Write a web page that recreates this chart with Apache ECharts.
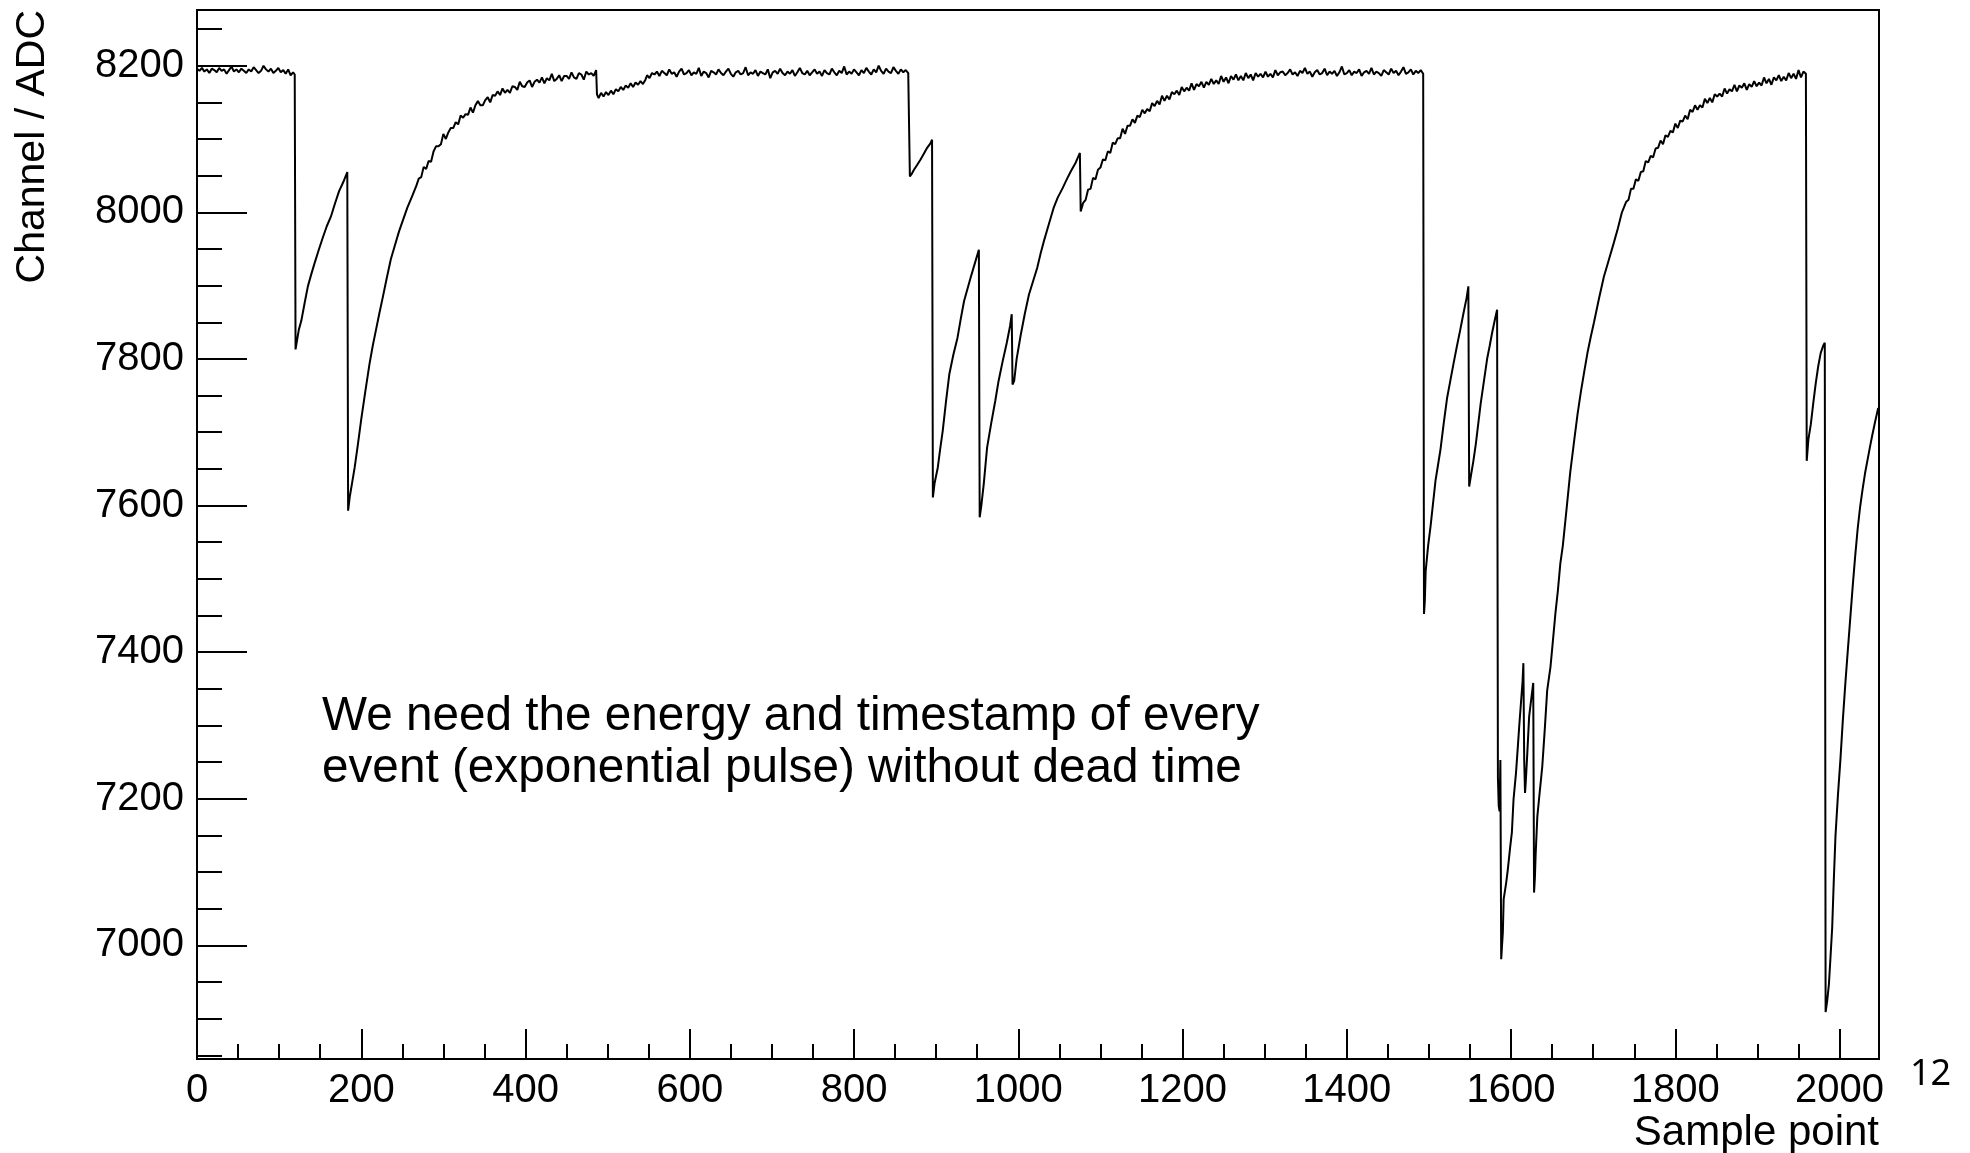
<!DOCTYPE html>
<html>
<head>
<meta charset="utf-8">
<script src="https://cdn.jsdelivr.net/npm/echarts@6/dist/echarts.min.js"></script>
<style>
html,body{margin:0;padding:0;background:#fff;}
#chart{width:1970px;height:1153px;}
</style>
</head>
<body>
<div id="chart"></div>
<script>
// ---- data ----
// Noisy stretches: values listed every 3 sample points from the given start.
const flatStartAt = 0;
const flatStart = [8196,8193,8197,8192,8195,8190,8196,8194,8191,8197,8193,8195,8189,8194,8199,8192,8195,8191,8196,8193,8190,8195,8192,8198,8194,8190,8193,8200,8195,8192,8196,8190,8193,8197,8191,8194,8189,8195,8187,8191];
// Explicit [sample point, channel] pairs
const pulseA = [[119,8188],[120,7813],[121,7820],[124,7840],[127,7852],[131,7876],[135,7899],[139,7915],[143,7930],[148,7948],[153,7965],[158,7981],[163,7994],[168,8012],[173,8029],[178,8041],[183,8055]];
const pulseB = [[184,7593],[186,7612],[189,7632],[192,7652],[196,7684],[200,7718],[205,7756],[210,7793],[214,7818],[218,7840],[222,7862],[226,7883],[231,7910],[236,7936],[241,7955],[246,7974],[251,7990],[256,8006],[262,8022],[267,8036]];
const tailBAt = 270;
const tailB = [8046,8048,8062,8059,8070,8069,8083,8090,8090,8093,8107,8100,8109,8115,8115,8123,8120,8132,8129,8134,8133,8143,8136,8146,8152,8146,8146,8153,8157,8150,8160,8159,8165,8160,8169,8163,8167,8163,8172,8171,8167,8178,8172,8171,8177,8180,8171,8178,8181,8177,8184,8176,8183,8180,8189,8179,8182,8187,8179,8186,8186,8182,8191,8184,8182,8190,8188,8181,8192,8188,8190,8186,8194];
const smallDip = [[487,8161],[489,8156],[492,8163],[495,8158],[498,8164],[501,8160],[504,8166],[507,8161],[510,8168],[513,8165],[516,8171],[519,8167],[522,8173],[525,8170],[528,8176],[531,8171],[534,8177],[537,8174],[540,8179],[543,8175],[546,8181],[548,8187],[551,8183],[554,8190]];
const flatMidAt = 557;
const flatMid = [8188,8192,8186,8193,8190,8187,8195,8189,8191,8185,8192,8196,8188,8190,8194,8187,8191,8189,8197,8186,
  8192,8190,8184,8193,8191,8188,8195,8190,8187,8192,8196,8189,8185,8191,8193,8188,8190,8198,8187,8191,
  8189,8194,8186,8192,8190,8188,8195,8183,8191,8193,8189,8196,8190,8187,8192,8189,8194,8186,8191,8197,
  8190,8188,8193,8187,8191,8195,8189,8192,8186,8194,8190,8188,8196,8191,8187,8193,8190,8199,8188,8192,
  8189,8195,8191,8187,8194,8190,8197,8192,8188,8195,8191,8200,8193,8189,8196,8192,8190,8198,8193,8189,
  8195,8191,8194,8190];
const pulseC = [[868,8049],[870,8052],[873,8058],[877,8065],[881,8072],[885,8080],[889,8088],[893,8094],[895,8099]];
const pulseD = [[896,7611],[898,7630],[902,7652],[905,7678],[908,7702],[912,7742],[916,7779],[921,7806],[926,7829],[930,7855],[934,7879],[938,7895],[942,7911],[947,7930],[952,7949]];
const pulseE = [[953,7584],[955,7600],[958,7630],[962,7679],[967,7712],[972,7743],[976,7770],[981,7797],[986,7822],[990,7845],[992,7861]];
const pulseF = [[993,7765],[995,7770],[998,7800],[1003,7833],[1008,7862],[1013,7888],[1018,7906],[1023,7924],[1027,7943],[1031,7960],[1037,7983],[1043,8006],[1048,8020],[1054,8033],[1059,8045],[1064,8056],[1070,8068],[1075,8081]];
const pulseG = [[1076,8001]];
const tailGAt = 1079;
const tailG = [8013,8017,8031,8032,8047,8045,8058,8061,8072,8071,8083,8081,8095,8093,8101,8101,8114,8107,8118,8118,8127,8122,8132,8130,8140,8135,8141,8138,8149,8145,8152,8147,8159,8152,8159,8154,8164,8161,8166,8160,8171,8165,8170,8166,8176,8167,8175,8172,8178,8170,8178,8174,8182,8175,8180,8175,8186,8178,8184,8176,8186,8181,8188,8180,8186,8180,8190,8183,8188,8180,8190,8185,8189,8184,8192,8185,8189,8184,8194,8187,8191];
const flatLateAt = 1322;
const flatLate = [8192,8187,8190,8195,8188,8191,8186,8193,8190,8197,8189,8192,8185,8191,8194,8188,8190,8196,8187,8192,
  8189,8193,8186,8191,8199,8188,8190,8194,8187,8192,8190,8195,8186,8191,8193,8189,8197,8188,8192,8190,
  8186,8194,8191,8188,8196,8190,8193,8187,8192,8198,8189,8191,8195,8188,8193,8190,8194,8189];
const pulseH = [[1494,7452],[1495,7470],[1496,7510],[1499,7545],[1502,7572],[1505,7603],[1508,7634],[1511,7655],[1514,7676],[1518,7712],[1522,7746],[1526,7770],[1530,7794],[1534,7817],[1538,7839],[1542,7862],[1546,7884],[1548,7899]];
const pulseI = [[1549,7626],[1551,7640],[1554,7660],[1557,7683],[1560,7711],[1563,7739],[1567,7770],[1571,7801],[1574,7818],[1577,7836],[1580,7852],[1583,7867]];
const pulseJ = [[1584,7228],[1585,7190],[1586,7183],[1587,7253],[1588,6981],[1589,7000],[1590,7018],[1591,7063],[1594,7085],[1596,7103],[1599,7135],[1601,7154],[1603,7199],[1606,7235],[1608,7267],[1610,7300],[1612,7330],[1614,7360],[1615,7385]];
const pulseK = [[1616,7253],[1617,7208],[1618,7225],[1620,7267],[1622,7312],[1625,7340],[1627,7358]];
const pulseL = [[1628,7072],[1629,7092],[1630,7126],[1632,7176],[1634,7199],[1638,7244],[1641,7294],[1644,7348],[1648,7380],[1651,7416],[1654,7453],[1657,7484],[1660,7521],[1663,7545],[1668,7600],[1672,7645],[1677,7690],[1681,7725],[1685,7755],[1689,7782],[1693,7808],[1697,7830],[1701,7850],[1707,7882],[1713,7912],[1719,7935],[1725,7958],[1730,7978],[1735,8000]];
const tailLAt = 1740;
const tailL = [8014,8017,8032,8032,8045,8043,8055,8056,8070,8068,8077,8075,8087,8088,8098,8093,8105,8103,8111,8109,8121,8115,8125,8124,8132,8127,8140,8137,8146,8140,8146,8143,8155,8149,8156,8150,8161,8158,8162,8158,8169,8162,8168,8165,8174,8165,8173,8170,8176,8167,8175,8171,8179,8172,8177,8173,8184,8176,8182,8174,8184,8180,8187,8179,8185,8180,8190,8183,8189,8182,8194,8184,8192,8189];
const pulseM = [[1960,7661],[1962,7690],[1965,7711],[1968,7740],[1971,7767],[1974,7790],[1977,7808],[1980,7818],[1982,7822]];
const pulseN = [[1983,6909],[1985,6925],[1987,6947],[1989,6985],[1991,7024],[1993,7090],[1995,7149],[1998,7205],[2001,7253],[2004,7308],[2007,7357],[2010,7402],[2013,7446],[2016,7490],[2019,7531],[2022,7568],[2025,7598],[2028,7622],[2031,7644],[2034,7662],[2037,7680],[2040,7697],[2043,7713],[2046,7728],[2047,7733]];

const xMajorTicks = [0,200,400,600,800,1000,1200,1400,1600,1800,2000];
const xMinorTicks = [50,100,150,250,300,350,450,500,550,650,700,750,850,900,950,1050,1100,1150,1250,1300,1350,1450,1500,1550,1650,1700,1750,1850,1900,1950,2050];
const yMajorTicks = [7000,7200,7400,7600,7800,8000,8200];
const yMinorTicks = [6850,6900,6950,7050,7100,7150,7250,7300,7350,7450,7500,7550,7650,7700,7750,7850,7900,7950,8050,8100,8150,8250];

const xTitle = 'Sample point';
const yTitle = 'Channel / ADC';
const noteLines = ['We need the energy and timestamp of every', 'event (exponential pulse) without dead time'];
const pageNumber = '12';

// pair up listed values with their sample points (every 3rd sample)
function every3(start, values) { return values.map(function (v, i) { return [start + 3 * i, v]; }); }

const waveform = [].concat(
  every3(flatStartAt, flatStart), pulseA, pulseB, every3(tailBAt, tailB), smallDip,
  every3(flatMidAt, flatMid), pulseC, pulseD, pulseE, pulseF, pulseG, every3(tailGAt, tailG),
  every3(flatLateAt, flatLate), pulseH, pulseI, pulseJ, pulseK, pulseL, every3(tailLAt, tailL),
  pulseM, pulseN);

const FONT = '"Liberation Sans", Arial, Helvetica, sans-serif';
const X_MIN = 0, X_MAX = 2048, Y_MIN = 6845, Y_MAX = 8276;

const chart = echarts.init(document.getElementById('chart'), null, {renderer: 'canvas'});
const tickStyle = {color: '#000', width: 2};
const plainNumber = function (v) { return String(v); };
chart.setOption({
  animation: false,
  backgroundColor: '#fff',
  grid: {left: 197, right: 91, top: 10, bottom: 94, show: true, borderColor: '#000', borderWidth: 2, backgroundColor: 'transparent', containLabel: false, outerBoundsMode: 'none'},
  xAxis: [
    {type: 'value', min: X_MIN, max: X_MAX, position: 'bottom',
     axisLine: {show: true, onZero: false, lineStyle: tickStyle},
     axisTick: {show: true, inside: true, length: 30, customValues: xMajorTicks, lineStyle: tickStyle},
     axisLabel: {show: true, customValues: xMajorTicks, formatter: plainNumber, margin: 12, fontSize: 40, fontFamily: FONT, color: '#000', hideOverlap: false},
     splitLine: {show: false}},
    {type: 'value', min: X_MIN, max: X_MAX, position: 'bottom', offset: 0,
     axisLine: {show: false, onZero: false},
     axisTick: {show: true, inside: true, length: 15, customValues: xMinorTicks, lineStyle: tickStyle},
     axisLabel: {show: false}, splitLine: {show: false}}
  ],
  yAxis: [
    {type: 'value', min: Y_MIN, max: Y_MAX, position: 'left',
     axisLine: {show: true, onZero: false, lineStyle: tickStyle},
     axisTick: {show: true, inside: true, length: 50, customValues: yMajorTicks, lineStyle: tickStyle},
     axisLabel: {show: true, customValues: yMajorTicks, formatter: plainNumber, margin: 13, fontSize: 40, fontFamily: FONT, color: '#000', hideOverlap: false},
     splitLine: {show: false}},
    {type: 'value', min: Y_MIN, max: Y_MAX, position: 'left', offset: 0,
     axisLine: {show: false, onZero: false},
     axisTick: {show: true, inside: true, length: 25, customValues: yMinorTicks, lineStyle: tickStyle},
     axisLabel: {show: false}, splitLine: {show: false}}
  ],
  series: [{
    type: 'line', xAxisIndex: 0, yAxisIndex: 0, data: waveform,
    showSymbol: false, symbol: 'none', sampling: null, clip: true,
    lineStyle: {color: '#000', width: 2}, z: 3
  }],
  graphic: [
    {type: 'text', x: 33, y: 10, rotation: Math.PI / 2,
     style: {text: yTitle, font: '41px ' + FONT, fill: '#000', align: 'right', textAlign: 'right', verticalAlign: 'middle', textVerticalAlign: 'middle'}},
    {type: 'text', x: 1879, y: 1133,
     style: {text: xTitle, font: '42px ' + FONT, fill: '#000', align: 'right', textAlign: 'right', verticalAlign: 'middle', textVerticalAlign: 'middle'}},
    {type: 'text', x: 322, y: 717,
     style: {text: noteLines[0], font: '47.7px ' + FONT, fill: '#000', align: 'left', textAlign: 'left', verticalAlign: 'middle', textVerticalAlign: 'middle'}},
    {type: 'text', x: 322, y: 769,
     style: {text: noteLines[1], font: '47.7px ' + FONT, fill: '#000', align: 'left', textAlign: 'left', verticalAlign: 'middle', textVerticalAlign: 'middle'}},
    {type: 'text', x: 1910, y: 1075,
     style: {text: pageNumber, font: '36px "Noto Sans", "Open Sans", sans-serif', fill: '#000', align: 'left', textAlign: 'left', verticalAlign: 'middle', textVerticalAlign: 'middle'}}
  ]
});
</script>
</body>
</html>
